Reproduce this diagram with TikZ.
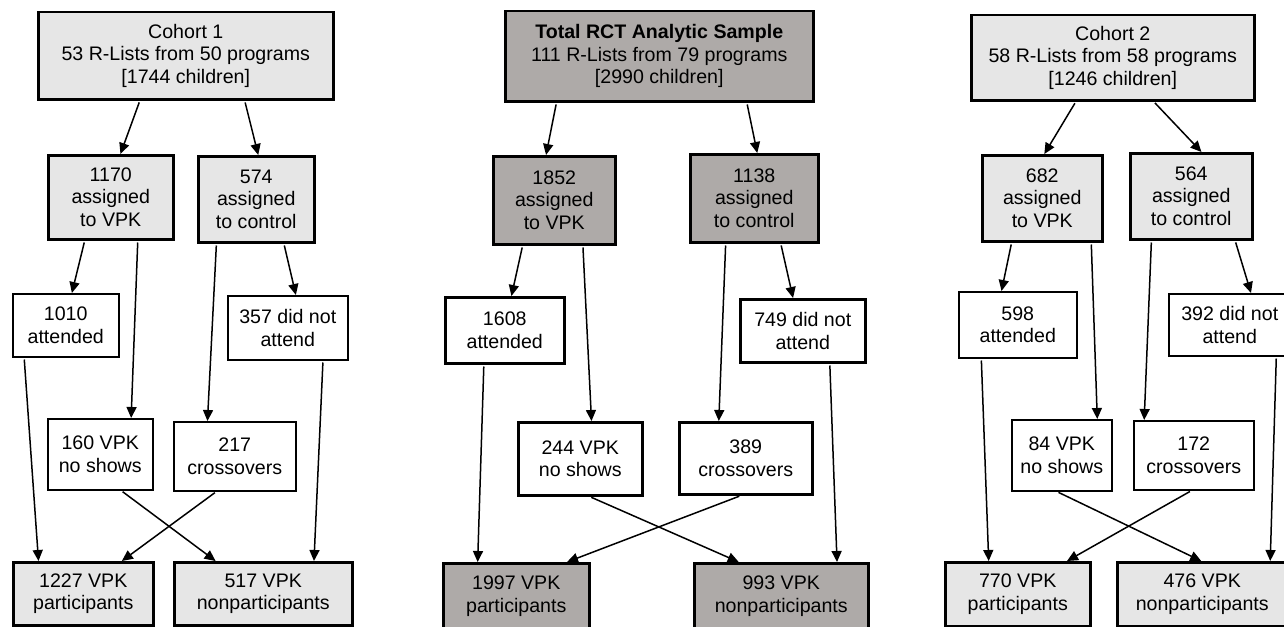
\documentclass[tikz,border=0pt]{standalone}
\usepackage{fontspec}
\setmainfont{Liberation Sans}
\usetikzlibrary{arrows.meta,calc}
\definecolor{lightg}{RGB}{230,230,230}
\definecolor{darkg}{RGB}{174,170,168}
\newcommand\conn[4]{\draw[arr] ($(#1.south west)!#2!(#1.south east)$) -- ($(#3.north west)!#4!(#3.north east)$);}
\begin{document}
\begin{tikzpicture}[x=1pt,y=-1pt,
  box/.style={draw, line width=2.5pt, align=center, inner sep=0pt, anchor=north west,
    font=\fontsize{19.6}{22.6}\selectfont},
  lbox/.style={box, fill=lightg},
  dbox/.style={box, fill=darkg},
  wthin/.style={box, fill=white, line width=1.5pt},
  wthick/.style={box, fill=white, line width=2.5pt},
  arr/.style={-{Triangle[length=11pt,width=10pt]}, line width=1.5pt, shorten <=2pt}]
\useasboundingbox (0,0) rectangle (1284,626);
\clip (0,0) rectangle (1284,626);
\fill[white] (0,0) rectangle (1284,626);
% ---------- left panel ----------
\node[lbox, minimum width=295, minimum height=87] (c1) at (37,11) {Cohort 1\\53 R-Lists from 50 programs\\{[}1744 children{]}};
\node[lbox, minimum width=125, minimum height=84] (a1) at (47,154) {1170\\assigned\\to VPK};
\node[lbox, minimum width=116, minimum height=86] (b1) at (197,155) {574\\assigned\\to control};
\node[wthin, minimum width=106, minimum height=63] (d1) at (12,293) {1010\\attended};
\node[wthin, minimum width=120, minimum height=64] (e1) at (227,295) {357 did not\\attend};
\node[wthin, minimum width=105, minimum height=71] (f1) at (47,418) {160 VPK\\no shows};
\node[wthin, minimum width=122, minimum height=69] (g1) at (173,421) {217\\crossovers};
\node[lbox, minimum width=140, minimum height=63] (p1) at (12,561) {1227 VPK\\participants};
\node[lbox, minimum width=178, minimum height=63] (n1) at (173,561) {517 VPK\\nonparticipants};
\conn{c1}{0.346}{a1}{0.576}
\conn{c1}{0.698}{b1}{0.517}
\conn{a1}{0.296}{d1}{0.557}
\conn{a1}{0.712}{f1}{0.79}
\conn{b1}{0.164}{g1}{0.279}
\conn{b1}{0.733}{e1}{0.567}
\conn{d1}{0.113}{p1}{0.186}
\conn{e1}{0.79}{n1}{0.781}
\conn{f1}{0.695}{n1}{0.236}
\conn{g1}{0.352}{p1}{0.771}
% ---------- middle panel ----------
\node[dbox, minimum width=308, minimum height=90] (ct) at (504,10) {\textbf{Total RCT Analytic Sample}\\111 R-Lists from 79 programs\\{[}2990 children{]}};
\node[dbox, minimum width=122, minimum height=88] (a2) at (492,155) {1852\\assigned\\to VPK};
\node[dbox, minimum width=128, minimum height=88] (b2) at (689,153) {1138\\assigned\\to control};
\node[wthick, minimum width=119, minimum height=66] (d2) at (444,296) {1608\\attended};
\node[wthick, minimum width=125, minimum height=63] (e2) at (739,298) {749 did not\\attend};
\node[wthick, minimum width=124, minimum height=73] (f2) at (517,421) {244 VPK\\no shows};
\node[wthick, minimum width=133, minimum height=72] (g2) at (678,421) {389\\crossovers};
\node[dbox, minimum width=146, minimum height=66] (p2) at (442,562) {1997 VPK\\participants};
\node[dbox, minimum width=174, minimum height=66] (n2) at (693,562) {993 VPK\\nonparticipants};
\conn{ct}{0.169}{a2}{0.434}
\conn{ct}{0.782}{b2}{0.523}
\conn{a2}{0.246}{d2}{0.555}
\conn{a2}{0.73}{f2}{0.589}
\conn{b2}{0.281}{g2}{0.301}
\conn{b2}{0.703}{e2}{0.424}
\conn{d2}{0.328}{p2}{0.24}
\conn{e2}{0.712}{n2}{0.816}
\conn{f2}{0.573}{n2}{0.259}
\conn{g2}{0.466}{p2}{0.842}
% ---------- right panel ----------
\node[lbox, minimum width=283, minimum height=85] (c3) at (970,14) {Cohort 2\\58 R-Lists from 58 programs\\{[}1246 children{]}};
\node[lbox, minimum width=120, minimum height=86] (a3) at (981,154) {682\\assigned\\to VPK};
\node[lbox, minimum width=122, minimum height=86] (b3) at (1129,152) {564\\assigned\\to control};
\node[wthin, minimum width=118, minimum height=66] (d3) at (958,291) {598\\attended};
\node[wthin, minimum width=122, minimum height=62] (e3) at (1168,293) {392 did not\\attend};
\node[wthin, minimum width=100, minimum height=71] (f3) at (1011,419) {84 VPK\\no shows};
\node[wthin, minimum width=120, minimum height=69] (g3) at (1133,420) {172\\crossovers};
\node[lbox, minimum width=145, minimum height=64] (p3) at (944,561) {770 VPK\\participants};
\node[lbox, minimum width=170, minimum height=64] (n3) at (1116,561) {476 VPK\\nonparticipants};
\conn{c3}{0.371}{a3}{0.517}
\conn{c3}{0.643}{b3}{0.582}
\conn{a3}{0.25}{d3}{0.364}
\conn{a3}{0.9}{f3}{0.85}
\conn{b3}{0.18}{g3}{0.092}
\conn{b3}{0.852}{e3}{0.672}
\conn{d3}{0.195}{p3}{0.303}
\conn{e3}{0.877}{n3}{0.894}
\conn{f3}{0.45}{n3}{0.494}
\conn{g3}{0.483}{p3}{0.834}
\end{tikzpicture}
\end{document}
